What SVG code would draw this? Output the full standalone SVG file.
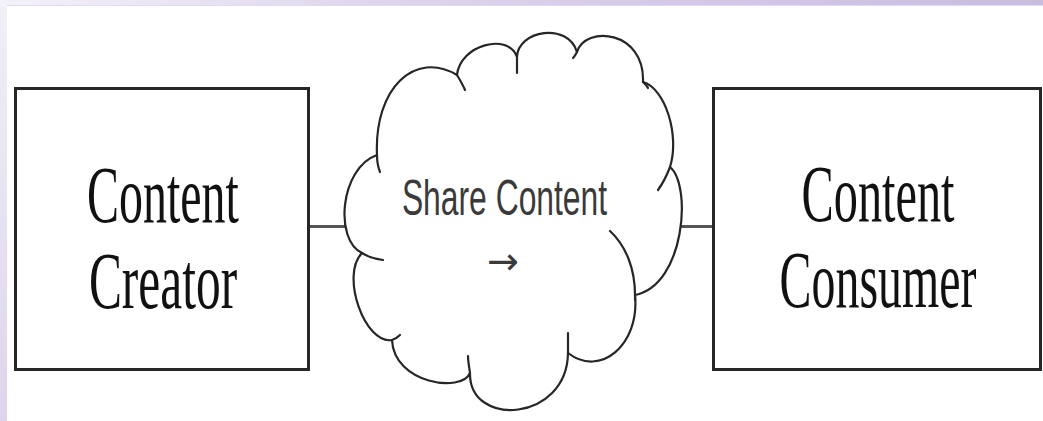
<svg xmlns="http://www.w3.org/2000/svg" width="1043" height="421" viewBox="0 0 1043 421">
  <defs>
    <linearGradient id="topband" x1="0" y1="0" x2="1" y2="0">
      <stop offset="0" stop-color="#f3f1f9"/>
      <stop offset="0.4" stop-color="#dcd3ec"/>
      <stop offset="1" stop-color="#c8bcdf"/>
    </linearGradient>
    <linearGradient id="leftband" x1="0" y1="0" x2="0" y2="1">
      <stop offset="0" stop-color="#f1eff8"/>
      <stop offset="1" stop-color="#ddd5ec"/>
    </linearGradient>
    <style>
      .box { fill: #ffffff; stroke: #262626; stroke-width: 3; }
      .boxtext { font-family: "Liberation Serif", "Times New Roman", serif; font-size: 80px; fill: #111111; text-anchor: middle; }
      .cloud { fill: #ffffff; stroke: #262626; stroke-width: 2.2; stroke-linejoin: round; }
      .tail { fill: none; stroke: #262626; stroke-width: 2.2; stroke-linecap: round; }
      .conn { stroke: #555555; stroke-width: 3; fill: none; }
      .cloudtext { font-family: "Liberation Sans", Arial, sans-serif; font-size: 50px; fill: #3a3a3a; text-anchor: middle; }
    </style>
  </defs>

  <rect x="0" y="0" width="1043" height="421" fill="#ffffff"/>
  <rect x="0" y="0" width="7" height="421" fill="url(#leftband)"/>
  <rect x="0" y="0" width="1043" height="6" fill="url(#topband)"/>
  <rect x="7" y="5" width="1036" height="1" fill="#e2dbef"/>

  <g id="connectors">
    <line class="conn" x1="309" y1="226.5" x2="347" y2="226.5"/>
    <line class="conn" x1="679" y1="226.5" x2="713" y2="226.5"/>
  </g>

  <g id="creator">
    <rect class="box" x="15.5" y="88.5" width="293" height="281"/>
    <text class="boxtext" transform="translate(163,222) scale(0.6,1)" x="0" y="0" textLength="253" lengthAdjust="spacingAndGlyphs">Content</text>
    <text class="boxtext" transform="translate(163,308) scale(0.6,1)" x="0" y="0" textLength="247" lengthAdjust="spacingAndGlyphs">Creator</text>
  </g>

  <g id="consumer">
    <rect class="box" x="713.5" y="88.5" width="327" height="281"/>
    <text class="boxtext" transform="translate(878,221) scale(0.6,1)" x="0" y="0" textLength="255" lengthAdjust="spacingAndGlyphs">Content</text>
    <text class="boxtext" transform="translate(878,307) scale(0.6,1)" x="0" y="0" textLength="328" lengthAdjust="spacingAndGlyphs">Consumer</text>
  </g>

  <g id="share">
    <path class="cloud" d="M362,253
      C334,240 340,168 377,155
      C374,88 415,50 457,75
      C460,45 508,32 517,57
      C518,30 568,22 577,52
      C585,25 645,30 643,82
      C665,88 680,135 670,167
      C692,185 685,285 635,295
      C640,345 600,378 568,353
      C567,422 469,428 470,373
      C462,393 394,384 392,340
      C365,345 340,275 362,253 Z"/>
    <path class="tail" d="M362,253 C368,257 375,259 383,260"/>
    <path class="tail" d="M377,155 C377,162 378,167 380,172"/>
    <path class="tail" d="M457,75 C460,80 463,85 465,90"/>
    <path class="tail" d="M517,57 C517,63 517,68 517,73"/>
    <path class="tail" d="M577,52 C576,54 575,56 573,58"/>
    <path class="tail" d="M643,82 C645,84 647,86 648,88"/>
    <path class="tail" d="M670,167 C667,175 663,183 658,190"/>
    <path class="tail" d="M610,231 C625,245 636,268 635,300"/>
    <path class="tail" d="M568,353 C568,345 568,340 568,333"/>
    <path class="tail" d="M470,373 C469,366 468,361 468,356"/>
    <path class="tail" d="M392,340 C395,339 398,337 400,335"/>
    <text class="cloudtext" transform="translate(504.5,215) scale(0.62,1)" x="0" y="0" textLength="331" lengthAdjust="spacingAndGlyphs">Share Content</text>
    <text x="487" y="274" font-family="DejaVu Sans, sans-serif" font-size="38" fill="#3a3a3a">→</text>
  </g>
</svg>
